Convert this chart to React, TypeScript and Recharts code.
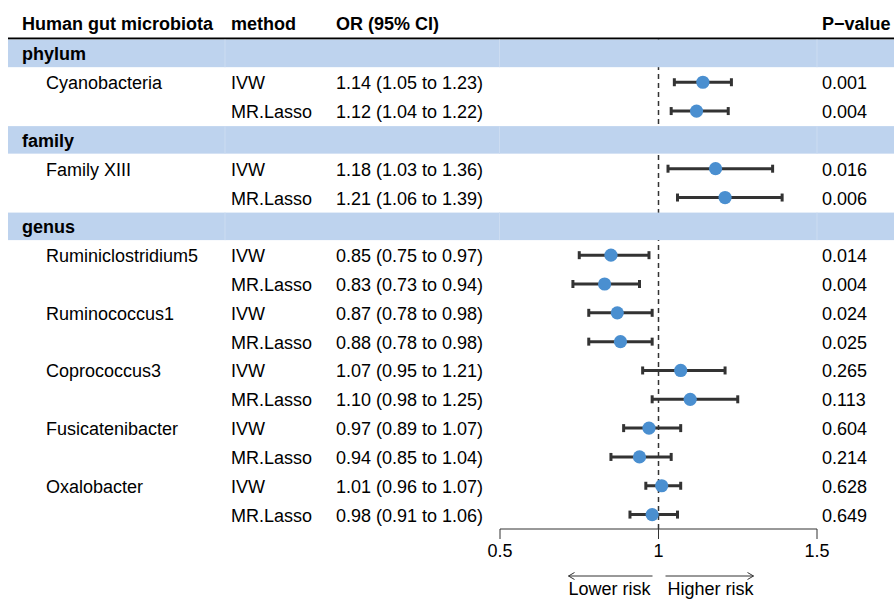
import React from 'react';
import { ScatterChart, Scatter, XAxis, YAxis, ErrorBar, ReferenceLine, Customized } from 'recharts';

const headers = ['Human gut microbiota', 'method', 'OR (95% CI)', 'P\u2212value'];
const rowGroups = ['phylum', 'phylum', 'family', 'family', 'genus', 'genus', 'genus', 'genus', 'genus', 'genus', 'genus', 'genus', 'genus', 'genus'];
const taxa = ['Cyanobacteria', '', 'Family XIII', '', 'Ruminiclostridium5', '', 'Ruminococcus1', '', 'Coprococcus3', '', 'Fusicatenibacter', '', 'Oxalobacter', ''];
const methods = ['IVW', 'MR.Lasso', 'IVW', 'MR.Lasso', 'IVW', 'MR.Lasso', 'IVW', 'MR.Lasso', 'IVW', 'MR.Lasso', 'IVW', 'MR.Lasso', 'IVW', 'MR.Lasso'];
const orValues = [1.14, 1.12, 1.18, 1.21, 0.85, 0.83, 0.87, 0.88, 1.07, 1.10, 0.97, 0.94, 1.01, 0.98];
const ciLower = [1.05, 1.04, 1.03, 1.06, 0.75, 0.73, 0.78, 0.78, 0.95, 0.98, 0.89, 0.85, 0.96, 0.91];
const ciUpper = [1.23, 1.22, 1.36, 1.39, 0.97, 0.94, 0.98, 0.98, 1.21, 1.25, 1.07, 1.04, 1.07, 1.06];
const pValues = ['0.001', '0.004', '0.016', '0.006', '0.014', '0.004', '0.024', '0.025', '0.265', '0.113', '0.604', '0.214', '0.628', '0.649'];
const xTicks = [0.5, 1, 1.5];
const riskLabels = ['Lower risk', 'Higher risk'];

const FONT = '"Liberation Sans", Arial, Helvetica, sans-serif';
const FS = 18;
const BAND = '#BED3EE';
const BAND_LINE = '#CCDCF1';
const POINT = '#4A8FD0';
const DARK = '#333333';
const CHART_W = 894;
const CHART_H = 600;
const MARGIN = { top: 39, right: 77, bottom: 41, left: 500 };
const X_AXIS_H = 30;

type Row = { x: number; y: number; kind: 'group' | 'item'; label: string; method?: string; orText?: string; p?: string; err?: number[] };
const groupRows: Row[] = [];
const itemRows: Row[] = [];
{
  let idx = 0;
  let last = '';
  rowGroups.forEach((g, i) => {
    if (g !== last) {
      groupRows.push({ x: 1, y: idx, kind: 'group', label: g });
      idx += 1;
      last = g;
    }
    itemRows.push({
      x: orValues[i],
      y: idx,
      kind: 'item',
      label: taxa[i],
      method: methods[i],
      orText: `${orValues[i].toFixed(2)} (${ciLower[i].toFixed(2)} to ${ciUpper[i].toFixed(2)})`,
      p: pValues[i],
      err: [orValues[i] - ciLower[i], ciUpper[i] - orValues[i]],
    });
    idx += 1;
  });
}
const N_ROWS = groupRows.length + itemRows.length;
const PLOT_H = CHART_H - MARGIN.top - MARGIN.bottom - X_AXIS_H;
const PITCH = PLOT_H / N_ROWS;

const COL = { group: 22, name: 46, method: 231, or: 336, p: 822 };
const TXT_DY = 7;

const BandShape = (props: any) => {
  const { cy, payload } = props;
  const h = PITCH - 1.3;
  return (
    <g>
      <rect x={8} y={cy - h / 2} width={CHART_W - 8} height={h} fill={BAND} />
      {[225, 499.5, 817].map((lx) => (
        <line key={lx} x1={lx} x2={lx} y1={cy - h / 2} y2={cy + h / 2} stroke={BAND_LINE} strokeWidth={1} />
      ))}
      <text x={COL.group} y={cy + TXT_DY} fontFamily={FONT} fontSize={FS} fontWeight="bold" fill="#000">
        {payload.label}
      </text>
    </g>
  );
};

const TextShape = (props: any) => {
  const { cy, payload } = props;
  const common = { fontFamily: FONT, fontSize: FS, fill: '#000', y: cy + TXT_DY };
  return (
    <g>
      {payload.label ? <text x={COL.name} {...common}>{payload.label}</text> : null}
      <text x={COL.method} {...common}>{payload.method}</text>
      <text x={COL.or} {...common}>{payload.orText}</text>
      <text x={COL.p} {...common}>{payload.p}</text>
    </g>
  );
};

const PointShape = (props: any) => {
  const { cx, cy } = props;
  return <circle cx={cx} cy={cy} r={6.6} fill={POINT} />;
};

const Header = () => (
  <g>
    {headers.map((h, i) => (
      <text key={h} x={[COL.group, COL.method, COL.or, COL.p][i]} y={29.5} fontFamily={FONT} fontSize={FS} fontWeight="bold" fill="#000">
        {h}
      </text>
    ))}
    <line x1={8} x2={CHART_W} y1={38.5} y2={38.5} stroke="#000" strokeWidth={2} />
  </g>
);

const RiskLabel = (props: any) => {
  const vb = props.viewBox || {};
  const mid = vb.x + vb.width / 2;
  const ay = vb.y + 47;
  const ty = vb.y + 66;
  return (
    <g>
      <line x1={mid - 6} x2={mid - 90} y1={ay} y2={ay} stroke={DARK} strokeWidth={1} />
      <polyline points={`${mid - 84},${ay - 3.5} ${mid - 90},${ay} ${mid - 84},${ay + 3.5}`} fill="none" stroke={DARK} strokeWidth={1} />
      <line x1={mid + 7} x2={mid + 95} y1={ay} y2={ay} stroke={DARK} strokeWidth={1} />
      <polyline points={`${mid + 89},${ay - 3.5} ${mid + 95},${ay} ${mid + 89},${ay + 3.5}`} fill="none" stroke={DARK} strokeWidth={1} />
      <text x={mid - 8} y={ty} textAnchor="end" fontFamily={FONT} fontSize={FS} fill="#000">{riskLabels[0]}</text>
      <text x={mid + 9} y={ty} textAnchor="start" fontFamily={FONT} fontSize={FS} fill="#000">{riskLabels[1]}</text>
    </g>
  );
};

export default function App() {
  return (
    <div style={{ position: 'absolute', left: 0, top: 0, width: CHART_W, height: CHART_H, background: '#fff' }}>
      <ScatterChart width={CHART_W} height={CHART_H} margin={MARGIN}>
        <XAxis
          type="number"
          dataKey="x"
          domain={[0.5, 1.5]}
          ticks={xTicks}
          height={X_AXIS_H}
          tickSize={10}
          tickMargin={5}
          axisLine={{ stroke: DARK, strokeWidth: 1 }}
          tickLine={{ stroke: DARK, strokeWidth: 1 }}
          tick={{ fill: '#000', fontSize: FS, fontFamily: FONT }}
          label={{ content: RiskLabel, position: 'bottom' }}
        />
        <YAxis type="number" dataKey="y" domain={[-0.5, N_ROWS - 0.5]} reversed hide />
        <Customized component={Header} />
        <Scatter data={groupRows} shape={BandShape} isAnimationActive={false} />
        <Scatter data={itemRows} shape={PointShape} isAnimationActive={false}>
          <ErrorBar dataKey="err" direction="x" width={4} stroke={DARK} strokeWidth={3} isAnimationActive={false} />
        </Scatter>
        <Scatter data={itemRows} shape={TextShape} isAnimationActive={false} />
        <ReferenceLine x={1} stroke={DARK} strokeWidth={1.5} strokeDasharray="5 4" />
      </ScatterChart>
    </div>
  );
}
